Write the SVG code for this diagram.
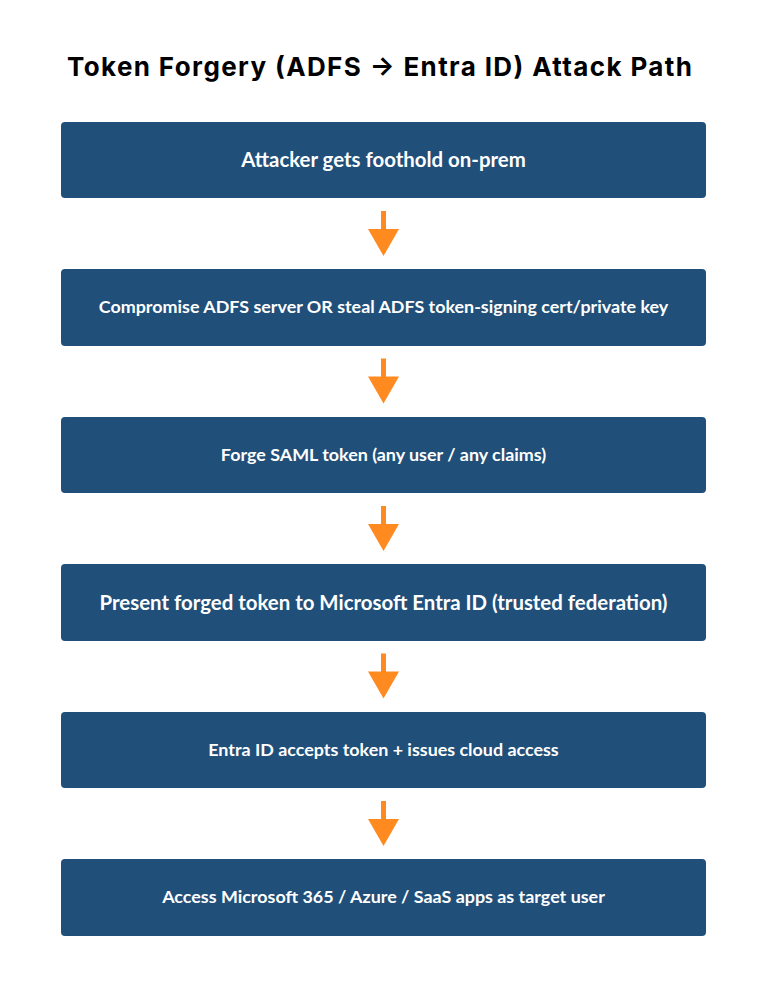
<svg xmlns="http://www.w3.org/2000/svg" width="768" height="987" viewBox="0 0 768 987">
<style>
.box{fill:#204f79;}
.lbl{font-family:Lato,"Liberation Sans",sans-serif;font-weight:bold;fill:#ffffff;text-anchor:middle;dominant-baseline:central;}
.title{font-family:Inter,"Liberation Sans",sans-serif;font-weight:bold;font-size:26px;fill:#000000;text-anchor:middle;}
.arr{fill:#ff8a1f;}
</style>
<rect width="768" height="987" fill="#ffffff"/>
<text class="title" x="379.5" y="76" textLength="625" lengthAdjust="spacing">Token Forgery (ADFS → Entra ID) Attack Path</text>
<g id="n1"><rect class="box" x="61" y="122" width="645" height="76" rx="4"/><text class="lbl" x="383.5" y="159" font-size="20.4">Attacker gets foothold on-prem</text></g>
<g id="n2"><rect class="box" x="61" y="269" width="645" height="77" rx="4"/><text class="lbl" x="383.5" y="306" font-size="17.9">Compromise ADFS server OR steal ADFS token-signing cert/private key</text></g>
<g id="n3"><rect class="box" x="61" y="417" width="645" height="76" rx="4"/><text class="lbl" x="383.5" y="454" font-size="17.9">Forge SAML token (any user / any claims)</text></g>
<g id="n4"><rect class="box" x="61" y="564" width="645" height="77" rx="4"/><text class="lbl" x="383.5" y="602" font-size="20.4">Present forged token to Microsoft Entra ID (trusted federation)</text></g>
<g id="n5"><rect class="box" x="61" y="712" width="645" height="76" rx="4"/><text class="lbl" x="383.5" y="749" font-size="17.9">Entra ID accepts token + issues cloud access</text></g>
<g id="n6"><rect class="box" x="61" y="859" width="645" height="77" rx="4"/><text class="lbl" x="383.5" y="896" font-size="17.9">Access Microsoft 365 / Azure / SaaS apps as target user</text></g>
<g id="connectors">
<g><rect class="arr" x="381" y="211" width="5" height="20"/><polygon class="arr" points="368,229 399,229 383.5,256"/></g>
<g transform="translate(0,147.5)"><rect class="arr" x="381" y="211" width="5" height="20"/><polygon class="arr" points="368,229 399,229 383.5,256"/></g>
<g transform="translate(0,295)"><rect class="arr" x="381" y="211" width="5" height="20"/><polygon class="arr" points="368,229 399,229 383.5,256"/></g>
<g transform="translate(0,442.5)"><rect class="arr" x="381" y="211" width="5" height="20"/><polygon class="arr" points="368,229 399,229 383.5,256"/></g>
<g transform="translate(0,590)"><rect class="arr" x="381" y="211" width="5" height="20"/><polygon class="arr" points="368,229 399,229 383.5,256"/></g>
</g>
</svg>
